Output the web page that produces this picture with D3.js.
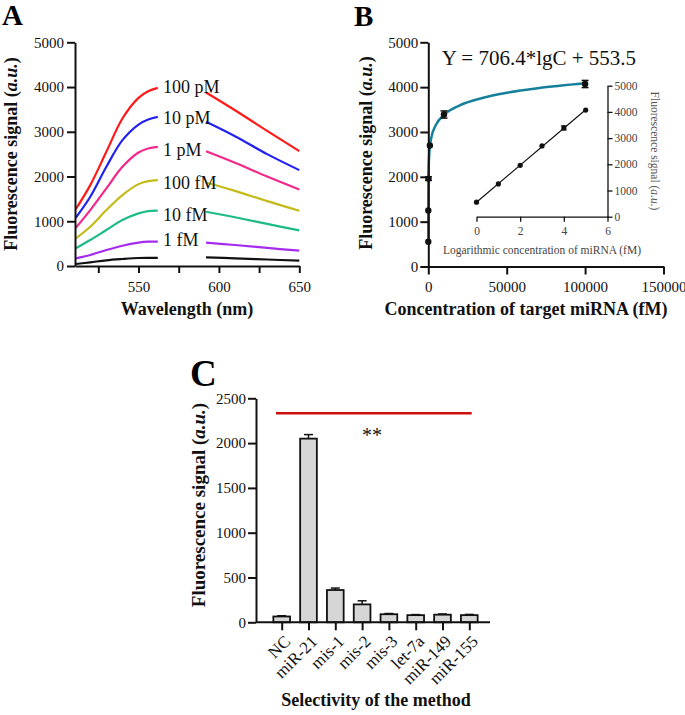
<!DOCTYPE html>
<html>
<head>
<meta charset="utf-8">
<script src="https://cdn.jsdelivr.net/npm/d3@7"></script>
<style>
body { margin: 0; background: #fff; }
svg text { font-family: "Liberation Serif", "Times New Roman", serif; }
</style>
</head>
<body>
<svg id="fig" width="685" height="715"></svg>
<script>
// ---- panel A : emission spectra (the gap is where the labels sit)
var wlLeft  = [511, 520, 530, 540, 550, 556, 562];
var wlRight = [592, 610, 630, 650];
var spec100pM_L = [1272, 1808, 2552, 3296, 3757, 3906, 3980];
var spec100pM_R = [3877, 3480, 3020, 2567];
var spec10pM_L  = [1079, 1548, 2217, 2812, 3162, 3274, 3333];
var spec10pM_R  = [3222, 2900, 2500, 2143];
var spec1pM_L   = [855, 1250, 1734, 2217, 2537, 2627, 2663];
var spec1pM_R   = [2567, 2310, 2000, 1711];
var spec100fM_L = [618, 877, 1250, 1585, 1830, 1897, 1920];
var spec100fM_R = [1867, 1680, 1450, 1235];
var spec10fM_L  = [395, 580, 804, 1027, 1176, 1228, 1235];
var spec10fM_R  = [1213, 1090, 940, 796];
var spec1fM_L   = [171, 246, 357, 453, 521, 543, 543];
var spec1fM_R   = [521, 470, 405, 342];
var specBlank_L = [45, 82, 127, 156, 179, 182, 182];
var specBlank_R = [194, 170, 145, 119];
var concLabels  = ["100 pM", "10 pM", "1 pM", "100 fM", "10 fM", "1 fM"];
var labelLevel  = [4000, 3320, 2590, 1860, 1150, 580];

// ---- panel B : calibration
var concB = [1, 10, 100, 1000, 10000, 100000];
var lgConcB = [0, 1, 2, 3, 4, 5];
var signalB = [553, 1250, 1960, 2700, 3390, 4070];
var errB = [0, 0, 40, 0, 80, 80];
var fitConc = [1, 3, 10, 30, 100, 300, 1000, 2000, 5000, 10000, 20000, 35000, 50000, 70000, 100000];
var fitSignal = [553, 890, 1260, 1597, 1966, 2303, 2673, 2885, 3166, 3379, 3592, 3763, 3873, 3976, 4085];
var insetFitX = [0, 5];
var insetFitY = [553, 4085];

// ---- panel C : selectivity
var catsC = ["NC", "miR-21", "mis-1", "mis-2", "mis-3", "let-7a", "miR-149", "miR-155"];
var valsC = [65, 2050, 360, 200, 90, 80, 85, 80];
var errsC = [8, 45, 22, 40, 8, 6, 8, 8];

var svg = d3.select("#fig");
var fmt = d3.format("d");
var ser = [
  {L: spec100pM_L, R: spec100pM_R, c: "#ff1a1a"},
  {L: spec10pM_L,  R: spec10pM_R,  c: "#2222ee"},
  {L: spec1pM_L,   R: spec1pM_R,   c: "#f2298a"},
  {L: spec100fM_L, R: spec100fM_R, c: "#c4bb1a"},
  {L: spec10fM_L,  R: spec10fM_R,  c: "#1dbb88"},
  {L: spec1fM_L,   R: spec1fM_R,   c: "#a52cee"},
  {L: specBlank_L, R: specBlank_R, c: "#111"}
];

function styleAxis(g, fs) {
  g.attr("font-family", null).attr("font-size", null);
  g.selectAll("path, line").attr("stroke", "#111").attr("stroke-width", 2);
  g.selectAll("text").attr("fill", "#111")
    .style("font-size", fs + "px")
    .style("font-family", '"Liberation Serif", "Times New Roman", serif');
}

function yTitle(x, y, size) {
  var t = svg.append("text").attr("transform", "translate(" + x + "," + y + ") rotate(-90)")
    .attr("text-anchor", "middle").attr("font-size", size).attr("font-weight", "bold").attr("fill", "#111");
  t.append("tspan").text("Fluorescence signal (");
  t.append("tspan").attr("font-style", "italic").text("a.u.");
  t.append("tspan").text(")");
}

// =========== A
var xA = d3.scaleLinear().domain([510.5, 650]).range([75, 299.3]);
var yA = d3.scaleLinear().domain([0, 5000]).range([266, 42.3]);
var lineA = d3.line().x(function(d) { return xA(d[0]); }).y(function(d) { return yA(d[1]); })
  .curve(d3.curveCatmullRom);

ser.forEach(function(s) {
  svg.append("path").attr("d", lineA(d3.zip(wlLeft, s.L)))
    .attr("fill", "none").attr("stroke", s.c).attr("stroke-width", 2.2);
  svg.append("path").attr("d", lineA(d3.zip(wlRight, s.R)))
    .attr("fill", "none").attr("stroke", s.c).attr("stroke-width", 2.2);
});

concLabels.forEach(function(t, i) {
  svg.append("text").attr("x", 163).attr("y", yA(labelLevel[i])).attr("dy", "0.35em")
    .attr("font-size", 18).attr("fill", "#111").text(t);
});

svg.append("g").attr("transform", "translate(75,0)")
  .call(d3.axisLeft(yA).tickValues([0, 1000, 2000, 3000, 4000, 5000]).tickFormat(fmt).tickSize(8).tickPadding(3).tickSizeOuter(0))
  .call(styleAxis, 15);
svg.append("g").attr("transform", "translate(0,266)")
  .call(d3.axisBottom(xA).tickValues([525, 550, 575, 600, 625, 650]).tickSize(7).tickPadding(8).tickSizeOuter(0)
    .tickFormat(function(d) { return d % 50 === 0 ? d : ""; }))
  .call(styleAxis, 15);

yTitle(17, 154, 18);
svg.append("text").attr("x", 187).attr("y", 315).attr("text-anchor", "middle")
  .attr("font-size", 18).attr("font-weight", "bold").attr("fill", "#111").text("Wavelength (nm)");
svg.append("text").attr("x", 2).attr("y", 25).attr("font-size", 29).attr("font-weight", "bold").text("A");

// =========== B
var xB = d3.scaleLinear().domain([0, 150000]).range([428.3, 663.5]);
var yB = d3.scaleLinear().domain([0, 5000]).range([266.5, 42.3]);

svg.append("path")
  .attr("d", d3.line().x(function(d) { return xB(d[0]); }).y(function(d) { return yB(d[1]); })
    .curve(d3.curveMonotoneX)(d3.zip(fitConc, fitSignal)))
  .attr("fill", "none").attr("stroke", "#15809a").attr("stroke-width", 2.5);

concB.forEach(function(c, i) {
  if (errB[i] > 0) {
    var cx = xB(c);
    svg.append("line").attr("x1", cx).attr("x2", cx).attr("y1", yB(signalB[i] - errB[i])).attr("y2", yB(signalB[i] + errB[i]))
      .attr("stroke", "#111").attr("stroke-width", 1.5);
    [signalB[i] - errB[i], signalB[i] + errB[i]].forEach(function(v) {
      svg.append("line").attr("x1", cx - 3.5).attr("x2", cx + 3.5).attr("y1", yB(v)).attr("y2", yB(v))
        .attr("stroke", "#111").attr("stroke-width", 1.5);
    });
  }
  svg.append("circle").attr("cx", xB(c)).attr("cy", yB(signalB[i])).attr("r", 3.2).attr("fill", "#111");
});

svg.append("g").attr("transform", "translate(428.3,0)")
  .call(d3.axisLeft(yB).tickValues([0, 1000, 2000, 3000, 4000, 5000]).tickFormat(fmt).tickSize(8).tickPadding(2).tickSizeOuter(0))
  .call(styleAxis, 15);
svg.append("g").attr("transform", "translate(0,266.5)")
  .call(d3.axisBottom(xB).tickValues([0, 50000, 100000, 150000]).tickFormat(fmt).tickSize(8).tickPadding(7).tickSizeOuter(0))
  .call(styleAxis, 15);

yTitle(372, 153, 18);
svg.append("text").attr("x", 526).attr("y", 315).attr("text-anchor", "middle")
  .attr("font-size", 18).attr("font-weight", "bold").attr("fill", "#111").text("Concentration of target miRNA (fM)");
svg.append("text").attr("x", 441.7).attr("y", 64.5).attr("font-size", 21).attr("fill", "#111")
  .text("Y = 706.4*lgC + 553.5");
svg.append("text").attr("x", 354).attr("y", 26).attr("font-size", 29).attr("font-weight", "bold").text("B");

// inset
var xI = d3.scaleLinear().domain([0, 6]).range([476.5, 607.5]);
var yI = d3.scaleLinear().domain([0, 5000]).range([216.7, 85.7]);
svg.append("path")
  .attr("d", d3.line().x(function(d) { return xI(d[0]); }).y(function(d) { return yI(d[1]); })(d3.zip(insetFitX, insetFitY)))
  .attr("stroke", "#111").attr("stroke-width", 1.2).attr("fill", "none");
lgConcB.forEach(function(c, i) {
  if (i === 4) {
    var cx = xI(c);
    svg.append("line").attr("x1", cx).attr("x2", cx).attr("y1", yI(signalB[i] - errB[i])).attr("y2", yI(signalB[i] + errB[i]))
      .attr("stroke", "#111").attr("stroke-width", 1);
    [signalB[i] - errB[i], signalB[i] + errB[i]].forEach(function(v) {
      svg.append("line").attr("x1", cx - 3).attr("x2", cx + 3).attr("y1", yI(v)).attr("y2", yI(v))
        .attr("stroke", "#111").attr("stroke-width", 1);
    });
  }
  svg.append("circle").attr("cx", xI(c)).attr("cy", yI(signalB[i])).attr("r", 2.6).attr("fill", "#111");
});
var gIy = svg.append("g").attr("transform", "translate(607.5,0)")
  .call(d3.axisRight(yI).tickValues([0, 1000, 2000, 3000, 4000, 5000]).tickFormat(fmt).tickSize(5).tickPadding(2).tickSizeOuter(0))
  .call(styleAxis, 11.5);
var gIx = svg.append("g").attr("transform", "translate(0,216.7)")
  .call(d3.axisBottom(xI).tickValues([0, 2, 4, 6]).tickFormat(fmt).tickSize(5).tickPadding(5).tickSizeOuter(0))
  .call(styleAxis, 11.5);
[gIy, gIx].forEach(function(g) {
  g.selectAll("path, line").attr("stroke-width", 1.3);
  g.selectAll("text").attr("fill", "#444");
});
svg.append("text").attr("x", 542).attr("y", 254).attr("text-anchor", "middle")
  .attr("font-size", 11.5).attr("fill", "#444").text("Logarithmic concentration of miRNA (fM)");
var it = svg.append("text").attr("transform", "translate(651,151) rotate(90)").attr("text-anchor", "middle")
  .attr("font-size", 11.5).attr("fill", "#555");
it.append("tspan").text("Fluorescence signal (");
it.append("tspan").attr("font-style", "italic").text("a.u.");
it.append("tspan").text(")");

// =========== C
var xC = d3.scalePoint().domain(catsC).range([281.7, 469.3]);
var yC = d3.scaleLinear().domain([0, 2500]).range([622.3, 398.3]);
var barW = 16.7;

svg.selectAll(".errC").data(catsC).enter().append("g").each(function(d, i) {
  var g = d3.select(this), cx = xC(d), top = yC(valsC[i] + errsC[i]);
  g.append("line").attr("x1", cx).attr("x2", cx).attr("y1", yC(valsC[i])).attr("y2", top)
    .attr("stroke", "#111").attr("stroke-width", 1.5);
  g.append("line").attr("x1", cx - 4.5).attr("x2", cx + 4.5).attr("y1", top).attr("y2", top)
    .attr("stroke", "#111").attr("stroke-width", 1.5);
});

svg.selectAll(".barC").data(catsC).enter().append("rect")
  .attr("x", function(d) { return xC(d) - barW / 2; })
  .attr("y", function(d, i) { return yC(valsC[i]); })
  .attr("width", barW)
  .attr("height", function(d, i) { return yC(0) - yC(valsC[i]); })
  .attr("fill", "#d6d6d6").attr("stroke", "#111").attr("stroke-width", 1.8);

svg.append("g").attr("transform", "translate(256,0)")
  .call(d3.axisLeft(yC).tickValues([0, 500, 1000, 1500, 2000, 2500]).tickFormat(fmt).tickSize(8).tickPadding(2).tickSizeOuter(0))
  .call(styleAxis, 15);
var gCx = svg.append("g").attr("transform", "translate(0,622.3)")
  .call(d3.axisBottom(xC).tickSize(8).tickSizeOuter(0))
  .call(styleAxis, 17);
gCx.select(".domain").remove();
gCx.append("line").attr("x1", 256).attr("x2", 490).attr("stroke", "#111").attr("stroke-width", 2);
gCx.selectAll(".tick text").attr("text-anchor", "end").attr("x", 0).attr("y", 0).attr("dy", "0.35em")
  .attr("transform", "translate(5,16) rotate(-45)");

svg.append("line").attr("x1", 276).attr("x2", 471.7).attr("y1", yC(2333)).attr("y2", yC(2333))
  .attr("stroke", "#cc1010").attr("stroke-width", 2.7);
svg.append("text").attr("x", 372).attr("y", 442).attr("text-anchor", "middle")
  .attr("font-size", 20).attr("fill", "#111").text("**");

yTitle(205, 505, 19);
svg.append("text").attr("x", 376).attr("y", 706).attr("text-anchor", "middle")
  .attr("font-size", 18).attr("font-weight", "bold").attr("fill", "#111").text("Selectivity of the method");
svg.append("text").attr("x", 190).attr("y", 386).attr("font-size", 37).attr("font-weight", "bold").text("C");
</script>
</body>
</html>
